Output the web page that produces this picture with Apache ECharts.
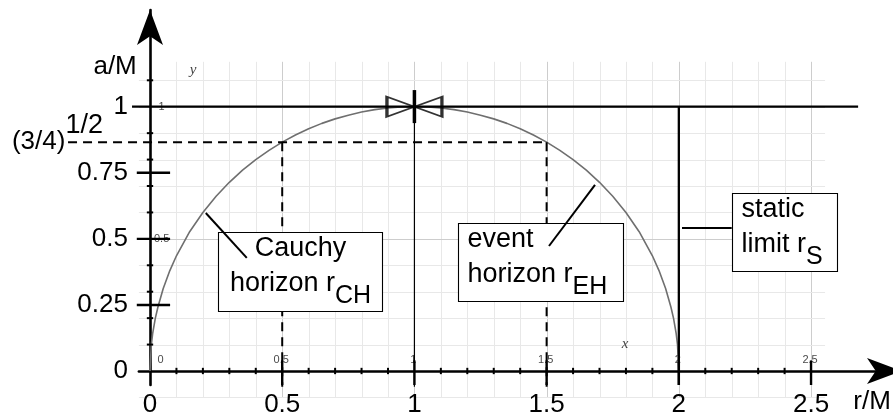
<!DOCTYPE html>
<html>
<head>
<meta charset="utf-8">
<script src="https://cdn.jsdelivr.net/npm/echarts@6/dist/echarts.min.js"></script>
<style>
  html, body { margin: 0; padding: 0; background: #fff; }
  #chart { width: 893px; height: 413px; }
</style>
</head>
<body>
<div id="chart"></div>
<script>
const FONT = '"Liberation Sans", Arial, Helvetica, sans-serif';
const SERIF = '"Liberation Serif", "DejaVu Serif", serif';

// ---------- data ----------
// Kerr horizons r/M against spin a/M (Cauchy branch for r < M, event branch for r > M)
const rCurve = [0, 0.005, 0.01, 0.02, 0.03, 0.05, 0.075,
  0.1, 0.15, 0.2, 0.25, 0.3, 0.35, 0.4, 0.45, 0.5, 0.55, 0.6, 0.65, 0.7, 0.75, 0.8, 0.85, 0.9, 0.95, 1.0,
  1.05, 1.1, 1.15, 1.2, 1.25, 1.3, 1.35, 1.4, 1.45, 1.5, 1.55, 1.6, 1.65, 1.7, 1.75, 1.8, 1.85, 1.9,
  1.925, 1.95, 1.97, 1.98, 1.99, 1.995, 2.0];
const aCurve = [0, 0.0999, 0.141, 0.199, 0.242, 0.312, 0.380,
  0.436, 0.527, 0.600, 0.661, 0.714, 0.760, 0.800, 0.835, 0.866, 0.893, 0.917, 0.937, 0.954, 0.968, 0.980, 0.989, 0.995, 0.999, 1.0,
  0.999, 0.995, 0.989, 0.980, 0.968, 0.954, 0.937, 0.917, 0.893, 0.866, 0.835, 0.800, 0.760, 0.714, 0.661, 0.600, 0.527, 0.436,
  0.380, 0.312, 0.242, 0.199, 0.141, 0.0999, 0];

const extremalSpin = 1;            // a/M = 1
const extremalR = 1;               // r = M, where both horizons meet
const staticLimitR = 2;            // r_S = 2M
const splitSpin = 0.866;           // (3/4)^{1/2}
const splitSpinLabel = '{m|(3/4)}{s|1/2}';
const splitHorizonsR = [0.5, 1.5]; // r_CH and r_EH at a = (3/4)^{1/2} M

const xTickValues = [0, 0.5, 1, 1.5, 2, 2.5];
const xTickLabels = ['0', '0.5', '1', '1.5', '2', '2.5'];
const yTickValues = [0, 0.25, 0.5, 0.75, 1];
const yTickLabels = ['0', '0.25', '0.5', '0.75', '1'];
const yMajorTicks = [0.25, 0.5, 0.75];
const innerYValues = [1, 0.5];
const innerYLabels = ['1', '0.5'];

const calloutLines = [
  ['{m|Cauchy}', '{m|horizon r}{s|CH}'],
  ['{m|event}', '{m|horizon r}{s|EH}'],
  ['{m|static}', '{m|limit r}{s|S}']
];

// ---------- layout (axis units) ----------
const X_MIN = -0.042, X_MAX = 2.844, Y_MIN = -0.053, Y_MAX = 1.366;
const PAPER = { rMin: -0.042, rMax: 2.553, aMin: -0.1, aMax: 1.17 };
const LOW_END = -0.06;
const SPLIT_LABEL_R = -0.178;      // right edge of the (3/4)^{1/2} label

// straight construction lines: [r0, a0, r1, a1] and their stroke
const SOLID = { stroke: '#000', lineWidth: 2.3 };
const THIN = { stroke: '#000', lineWidth: 1.2 };
const DASHED = { stroke: '#000', lineWidth: 2, lineDash: [9, 6] };
const BAR = { stroke: '#000', lineWidth: 3.5 };
const segments = [
  { pts: [-0.068, extremalSpin, 2.678, extremalSpin], style: SOLID },
  { pts: [staticLimitR, extremalSpin, staticLimitR, Y_MIN], style: SOLID },
  { pts: [extremalR, extremalSpin, extremalR, LOW_END], style: THIN },
  { pts: [-0.31, splitSpin, splitHorizonsR[1], splitSpin], style: DASHED },
  { pts: [splitHorizonsR[0], splitSpin, splitHorizonsR[0], LOW_END], style: DASHED },
  { pts: [splitHorizonsR[1], splitSpin, splitHorizonsR[1], LOW_END], style: DASHED },
  { pts: [extremalR, 1.063, extremalR, 0.938], style: BAR }
];

// callout boxes [r0, aTop, r1, aBottom], leaders [r, a, r, a]
const calloutBoxes = [
  [0.257, 0.526, 0.877, 0.227],
  [1.165, 0.560, 1.789, 0.265],
  [2.200, 0.672, 2.597, 0.378]
];
const calloutLeaders = [
  [0.211, 0.598, 0.366, 0.428],
  [1.509, 0.473, 1.683, 0.704],
  [2.012, 0.541, 2.200, 0.541]
];
const calloutAlign = ['center', 'left', 'left'];

// free-standing texts anchored at [r, a]
const notes = [
  { text: 'a/M', at: [-0.132, 1.150], font: FONT, size: 26, style: 'normal', color: '#000' },
  { text: 'r/M', at: [2.731, -0.117], font: FONT, size: 26, style: 'normal', color: '#000' },
  { text: 'y', at: [0.163, 1.139], font: SERIF, size: 15, style: 'italic', color: '#444' },
  { text: 'x', at: [1.797, 0.102], font: SERIF, size: 15, style: 'italic', color: '#444' }
];

// light millimetre grid: [orientation 0=vertical 1=horizontal, value, index]
const paperLines = [];
for (let k = 1; k <= 25; k++) paperLines.push([0, k / 10, k]);
for (let k = -1; k <= 11; k++) if (k !== 0) paperLines.push([1, k / 10, k]);

// axis ticks: [orientation 0=on x axis 1=on y axis, value, major?]
const tickMarks = [];
for (let k = 1; k <= 25; k++) {
  if (k % 5 === 0) tickMarks.push([0, k / 10, 1]);
  else if (k < 25) tickMarks.push([0, k / 10, 0]);
}
for (let k = 1; k <= 11; k++) if (k % 5 !== 0) tickMarks.push([1, k / 10, 0]);
yMajorTicks.forEach(v => tickMarks.push([1, v, 1]));

const labelOf = (values, labels) => v => labels[values.findIndex(t => Math.abs(t - v) < 1e-6)];

const chart = echarts.init(document.getElementById('chart'), null, { renderer: 'canvas' });

const option = {
  animation: false,
  backgroundColor: '#fff',
  textStyle: { fontFamily: FONT },
  grid: { left: 138.9, right: -9, top: 10, bottom: 28, containLabel: false, outerBoundsMode: 'none' },
  xAxis: {
    type: 'value', min: X_MIN, max: X_MAX, z: 3,
    splitLine: { show: false }, axisTick: { show: false },
    axisLine: { onZero: true, symbol: ['none', 'arrow'], symbolSize: [19.5, 35], lineStyle: { color: '#000', width: 2.6 } },
    axisLabel: {
      customValues: xTickValues, hideOverlap: false, formatter: labelOf(xTickValues, xTickLabels),
      fontSize: 26, fontFamily: FONT, color: '#000', margin: 7
    }
  },
  yAxis: {
    type: 'value', min: Y_MIN, max: Y_MAX, z: 3,
    splitLine: { show: false }, axisTick: { show: false },
    axisLine: { onZero: true, symbol: ['none', 'arrow'], symbolSize: [19.5, 35], lineStyle: { color: '#000', width: 2.6 } },
    axisLabel: {
      customValues: yTickValues, hideOverlap: false, formatter: labelOf(yTickValues, yTickLabels),
      fontSize: 26, fontFamily: FONT, color: '#000', margin: 11
    }
  },
  series: [
    // millimetre paper
    {
      type: 'custom', z: 1, silent: true, clip: false, animation: false,
      data: paperLines,
      renderItem(params, api) {
        const o = api.value(0), v = api.value(1), k = api.value(2);
        const major = Math.round(k) % 5 === 0;
        let shape;
        if (o === 0) {
          const p0 = api.coord([v, PAPER.aMax]), p1 = api.coord([v, PAPER.aMin]);
          const x = Math.round(p0[0]) + 0.5;
          shape = { x1: x, y1: p0[1], x2: x, y2: p1[1] };
        } else {
          const p0 = api.coord([PAPER.rMin, v]), p1 = api.coord([PAPER.rMax, v]);
          const y = Math.round(p0[1]) + 0.5;
          shape = { x1: p0[0], y1: y, x2: p1[0], y2: y };
        }
        return { type: 'line', shape, style: { stroke: major ? '#cdcdcd' : '#e8e8e8', lineWidth: 1 } };
      }
    },
    // small numbers printed on the paper
    {
      type: 'custom', z: 2, silent: true, clip: false, animation: false,
      data: xTickValues.map(v => [v, 0.04]).concat(innerYValues.map(v => [0.044, v])),
      renderItem(params, api) {
        const i = params.dataIndex;
        const p = api.coord([api.value(0), api.value(1)]);
        const isX = i < xTickValues.length;
        const label = isX ? xTickLabels[i] : innerYLabels[i - xTickValues.length];
        const dx = isX ? (i === 0 ? 10.5 : -1) : 0;
        return {
          type: 'text', x: p[0] + dx, y: p[1],
          style: { text: label, fontSize: 11, fontFamily: FONT, fill: '#4a4a4a', align: 'center', verticalAlign: 'middle' }
        };
      }
    },
    // curve of horizons
    {
      type: 'line', data: rCurve.map((r, i) => [r, aCurve[i]]),
      symbol: 'none', showSymbol: false, clip: false, silent: true, z: 4, animation: false,
      lineStyle: { color: '#6f6f6f', width: 1.6 }
    },
    // construction lines
    {
      type: 'custom', z: 5, silent: true, clip: false, animation: false,
      data: segments.map(s => s.pts),
      renderItem(params, api) {
        const s = segments[params.dataIndex];
        const p0 = api.coord([s.pts[0], s.pts[1]]), p1 = api.coord([s.pts[2], s.pts[3]]);
        return { type: 'line', shape: { x1: p0[0], y1: p0[1], x2: p1[0], y2: p1[1] }, style: Object.assign({}, s.style) };
      }
    },
    // axis ticks
    {
      type: 'custom', z: 5, silent: true, clip: false, animation: false,
      data: tickMarks,
      renderItem(params, api) {
        const o = api.value(0), v = api.value(1), major = api.value(2) === 1;
        let p0, p1;
        if (o === 0) {
          p0 = api.coord([v, major ? 0.04 : 0.012]);
          p1 = api.coord([v, major ? Y_MIN : -0.012]);
        } else {
          p0 = api.coord([major ? -0.05 : -0.012, v]);
          p1 = api.coord([major ? 0.076 : 0.012, v]);
        }
        return {
          type: 'line', shape: { x1: p0[0], y1: p0[1], x2: p1[0], y2: p1[1] },
          style: { stroke: '#000', lineWidth: major ? 2.4 : 2 }
        };
      }
    },
    // (3/4)^{1/2} mark on the spin axis
    {
      type: 'custom', z: 5, silent: true, clip: false, animation: false,
      data: [[SPLIT_LABEL_R, splitSpin]],
      renderItem(params, api) {
        const p = api.coord([api.value(0), api.value(1)]);
        return {
          type: 'text', x: p[0], y: p[1],
          style: {
            text: splitSpinLabel, align: 'right', verticalAlign: 'middle',
            rich: {
              m: { fontSize: 26, fontFamily: FONT, fill: '#000', lineHeight: 60, verticalAlign: 'middle' },
              s: { fontSize: 27, fontFamily: FONT, fill: '#000', lineHeight: 26, verticalAlign: 'top' }
            }
          }
        };
      }
    },
    // merging point of the horizons at a = M
    {
      type: 'scatter', data: [[extremalR, extremalSpin]], z: 6, silent: true, clip: false, animation: false,
      symbol: 'path://M0,0L55,20L55,0L0,20Z', symbolSize: [55, 20],
      itemStyle: { color: 'rgba(255,255,255,0)', borderColor: '#000', borderWidth: 2 }
    },
    // callouts
    {
      type: 'custom', z: 7, silent: true, clip: false, animation: false,
      data: calloutBoxes.map((b, i) => [i, 0]),
      renderItem(params, api) {
        const i = params.dataIndex;
        const b = calloutBoxes[i], l = calloutLeaders[i];
        const tl = api.coord([b[0], b[1]]), br = api.coord([b[2], b[3]]);
        const l0 = api.coord([l[0], l[1]]), l1 = api.coord([l[2], l[3]]);
        const x0 = Math.round(tl[0]) + 0.5, y0 = Math.round(tl[1]) + 0.5;
        const x1 = Math.round(br[0]) + 0.5, y1 = Math.round(br[1]) + 0.5;
        const centered = calloutAlign[i] === 'center';
        return {
          type: 'group',
          children: [
            { type: 'rect', shape: { x: x0, y: y0, width: x1 - x0, height: y1 - y0 }, style: { fill: '#fff', stroke: '#000', lineWidth: 1.1 } },
            { type: 'line', shape: { x1: l0[0], y1: l0[1], x2: l1[0], y2: l1[1] }, style: { stroke: '#000', lineWidth: 2 } },
            {
              type: 'text', x: centered ? (x0 + x1) / 2 : x0 + 9, y: y0 + 3,
              style: {
                text: calloutLines[i].join('\n'),
                align: centered ? 'center' : 'left', verticalAlign: 'top',
                rich: {
                  m: { fontSize: 27, fontFamily: FONT, fill: '#000', lineHeight: 35, verticalAlign: 'top' },
                  s: { fontSize: 25, fontFamily: FONT, fill: '#000', lineHeight: 51, verticalAlign: 'middle' }
                }
              }
            }
          ]
        };
      }
    },
    // axis names and paper letters
    {
      type: 'custom', z: 7, silent: true, clip: false, animation: false,
      data: notes.map(n => n.at),
      renderItem(params, api) {
        const n = notes[params.dataIndex];
        const p = api.coord([api.value(0), api.value(1)]);
        return {
          type: 'text', x: p[0], y: p[1],
          style: { text: n.text, fontSize: n.size, fontFamily: n.font, fontStyle: n.style, fill: n.color, align: 'center', verticalAlign: 'middle' }
        };
      }
    }
  ]
};

chart.setOption(option);
</script>
</body>
</html>
